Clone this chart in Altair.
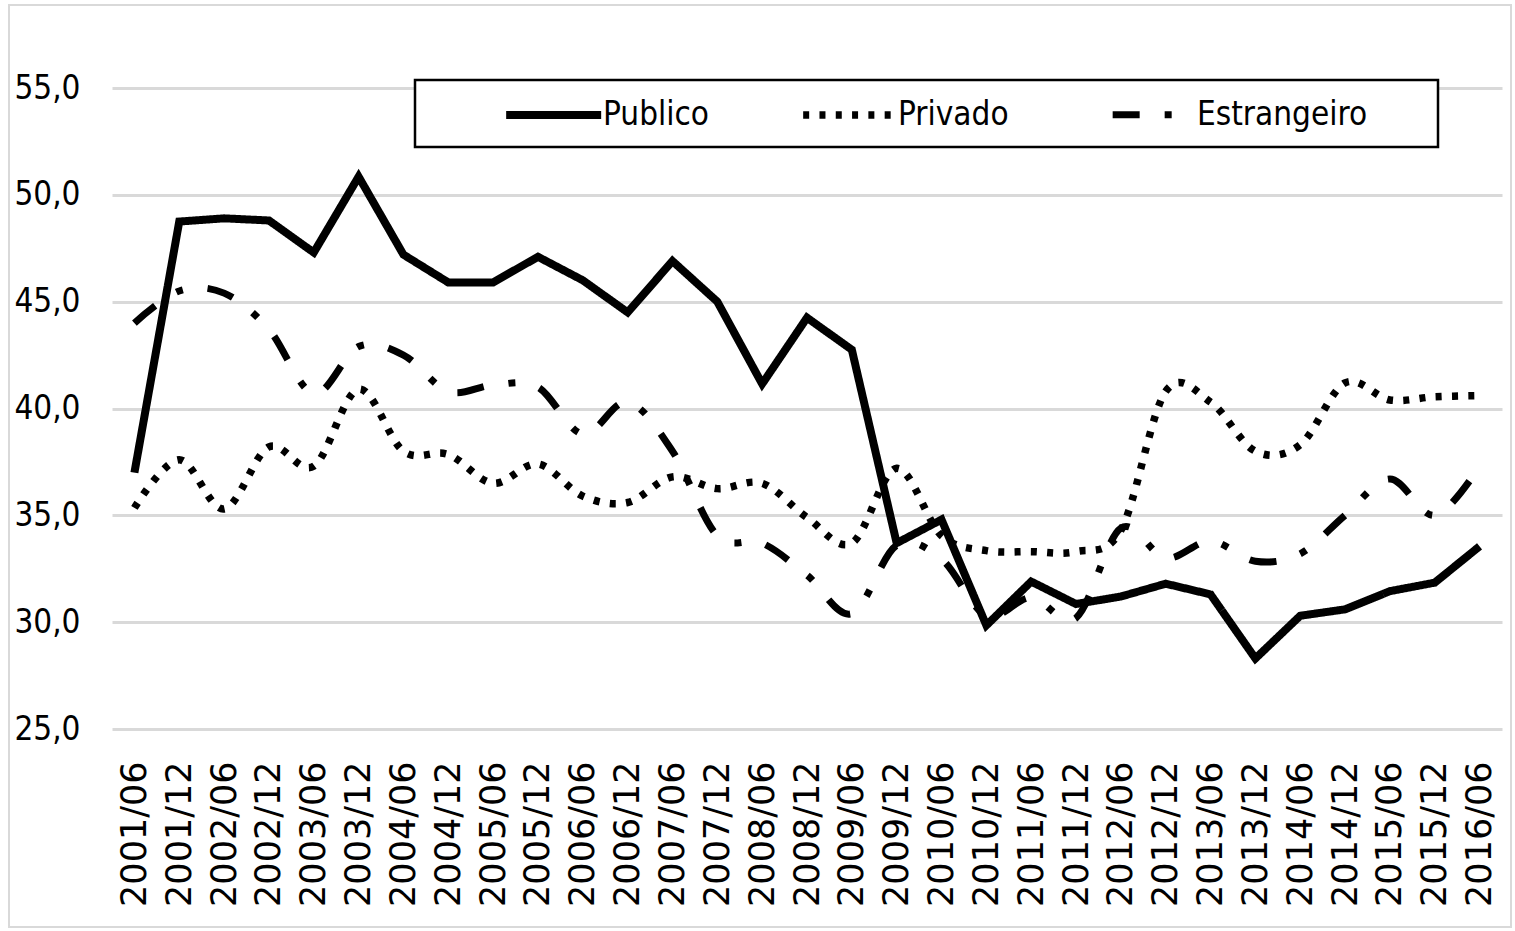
import altair as alt
import pandas as pd

categories = ["2001/06", "2001/12", "2002/06", "2002/12", "2003/06", "2003/12",
              "2004/06", "2004/12", "2005/06", "2005/12", "2006/06", "2006/12",
              "2007/06", "2007/12", "2008/06", "2008/12", "2009/06", "2009/12",
              "2010/06", "2010/12", "2011/06", "2011/12", "2012/06", "2012/12",
              "2013/06", "2013/12", "2014/06", "2014/12", "2015/06", "2015/12",
              "2016/06"]

publico = [37.0, 48.75, 48.9, 48.8, 47.3, 50.85, 47.2, 45.9, 45.9, 47.1, 46.0,
           44.5, 46.9, 45.0, 41.15, 44.25, 42.75, 33.7, 34.8, 29.85, 31.9, 30.85,
           31.2, 31.8, 31.3, 28.3, 30.3, 30.6, 31.45, 31.85, 33.55]

privado = [35.35, 37.6, 35.3, 38.2, 37.3, 40.9, 38.0, 37.85, 36.5, 37.4, 35.9,
           35.6, 36.8, 36.25, 36.5, 34.9, 33.7, 37.2, 34.05, 33.35, 33.3, 33.3,
           34.3, 40.8, 40.3, 38.0, 38.3, 41.2, 40.4, 40.55, 40.6]

estrangeiro = [44.0, 45.5, 45.4, 43.7, 40.7, 42.9, 42.5, 40.8, 41.1, 41.0, 38.8,
               40.3, 38.0, 34.05, 33.7, 32.2, 30.4, 33.6, 32.95, 30.3, 31.15, 30.2,
               34.4, 33.0, 33.8, 32.85, 33.2, 35.0, 36.7, 35.0, 37.3]

series_names = ["Publico", "Privado", "Estrangeiro"]
y_ticks = [25, 30, 35, 40, 45, 50, 55]

rows = []
for name, vals in zip(series_names, [publico, privado, estrangeiro]):
    for c, v in zip(categories, vals):
        rows.append({"Periodo": c, "Valor": v, "Serie": name})
df = pd.DataFrame(rows)

NARROW = "'Liberation Sans Narrow', 'DejaVu Sans Condensed', 'Liberation Sans', sans-serif"

x_enc = alt.X("Periodo:N", sort=categories, title=None,
              scale=alt.Scale(paddingInner=0, paddingOuter=0),
              axis=alt.Axis(labelAngle=-90, labelAlign="right", labelBaseline="middle",
                            labelFont="DejaVu Sans", labelFontSize=35, labelColor="#000000",
                            labelPadding=32, ticks=False, domain=False, grid=False))
y_enc = alt.Y("Valor:Q", title=None,
              scale=alt.Scale(domain=[25, 55], nice=False, zero=False),
              axis=alt.Axis(values=y_ticks, labelExpr="replace(format(datum.value, '.1f'), '.', ',')",
                            labelFont=NARROW, labelFontSize=33, labelColor="#000000",
                            labelPadding=32, ticks=False, domain=False,
                            grid=True, gridColor="#d9d9d9", gridWidth=3))

dash_scale = alt.Scale(domain=series_names, range=[[1, 0], [6, 10.3], [27, 25, 7, 25]])
width_scale = alt.Scale(domain=series_names, range=[8, 7, 7])
legend = alt.Legend(title=" ", titleOrient="right", titlePadding=56, titleFontSize=8,
                    orient="none", legendX=303, legendY=-8, direction="horizontal",
                    symbolType="M-1,0H5", symbolSize=1003, symbolStrokeColor="#000000",
                    symbolDashOffset=324,
                    labelFont=NARROW, labelFontSize=33, labelColor="#000000",
                    labelOffset=61, labelLimit=400,
                    columnPadding=16, padding=15, symbolOffset=72,
                    strokeColor="#000000", fillColor="#ffffff")

dash_enc = alt.StrokeDash("Serie:N", scale=dash_scale, legend=legend, sort=series_names)
width_enc = alt.StrokeWidth("Serie:N", scale=width_scale, legend=legend, sort=series_names)

pub = alt.Chart(df).transform_filter(alt.datum.Serie == "Publico").mark_line(
    color="#000000", strokeCap="butt", strokeJoin="miter", interpolate="linear"
).encode(x=x_enc, y=y_enc, strokeDash=dash_enc, strokeWidth=width_enc)

others = alt.Chart(df).transform_filter(alt.datum.Serie != "Publico").mark_line(
    color="#000000", strokeCap="butt", interpolate="cardinal"
).encode(x=x_enc, y=y_enc, strokeDash=dash_enc, strokeWidth=width_enc, detail="Serie:N")

# light grey outer chart border (decoration, not data)
frame = alt.Chart(pd.DataFrame({"k": [0]})).mark_rect(
    fill=None, stroke="#d9d9d9", strokeWidth=2
).encode(x=alt.value(-103), x2=alt.value(1399), y=alt.value(-83), y2=alt.value(839))

chart = alt.layer(frame, others, pub).properties(
    width=1390, height=641,
    autosize=alt.AutoSizeParams(type="none"),
    padding={"left": 112, "top": 88, "right": 11, "bottom": 200},
    background="#ffffff"
).configure_view(stroke=None).configure_legend(strokeWidth=2.5)

chart.save("out.html", embed_options={"renderer": "svg", "actions": False})
